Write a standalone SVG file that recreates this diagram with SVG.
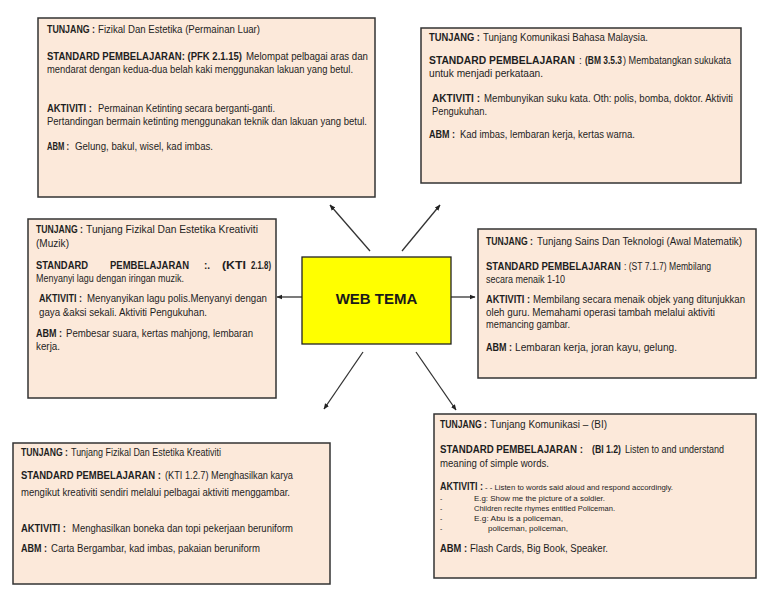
<svg xmlns="http://www.w3.org/2000/svg" width="768" height="594" viewBox="0 0 768 594">
<style>
.box{fill:#fce9da;stroke:#333;stroke-width:1.5}
text{font-family:"Liberation Sans",Arial,sans-serif;font-size:10px;fill:#1e1e1e}
.b{font-weight:bold}
.sm{font-size:7px}
.conn{stroke:#333;stroke-width:1.3;fill:none;marker-end:url(#ah)}
.title{font-size:15px;font-weight:bold;fill:#1a1a1a}
</style>
<defs>
<marker id="ah" viewBox="0 0 10 10" refX="9" refY="5" markerWidth="6" markerHeight="6" orient="auto" markerUnits="userSpaceOnUse">
<path d="M0,1 L10,5 L0,9 z" fill="#222"/>
</marker>
</defs>
<rect width="768" height="594" fill="#fff"/>

<g id="connectors">
<line class="conn" x1="302" y1="297" x2="277" y2="297"/>
<line class="conn" x1="451" y1="297" x2="475" y2="297"/>
<line class="conn" x1="370" y1="251" x2="330" y2="205"/>
<line class="conn" x1="402" y1="251" x2="440" y2="205"/>
<line class="conn" x1="363" y1="352" x2="324" y2="409"/>
<line class="conn" x1="416" y1="352" x2="456" y2="410"/>
</g>

<g id="center">
<rect x="302" y="257" width="149" height="87" fill="#ffff00" stroke="#222" stroke-width="1.3"/>
<text class="title" x="376.5" y="304" text-anchor="middle">WEB TEMA</text>
</g>

<g id="box-fizikal-luar">
<rect class="box" x="38" y="18" width="337" height="179"/>
<text class="b" x="47" y="33" textLength="48" lengthAdjust="spacingAndGlyphs">TUNJANG :</text>
<text x="98" y="33" textLength="162" lengthAdjust="spacingAndGlyphs">Fizikal Dan Estetika (Permainan Luar)</text>
<text class="b" x="47" y="60" textLength="195" lengthAdjust="spacingAndGlyphs">STANDARD PEMBELAJARAN: (PFK 2.1.15)</text>
<text x="246" y="60" textLength="122" lengthAdjust="spacingAndGlyphs">Melompat pelbagai aras dan</text>
<text x="47" y="73" textLength="306" lengthAdjust="spacingAndGlyphs">mendarat dengan kedua-dua belah kaki menggunakan lakuan yang betul.</text>
<text class="b" x="47" y="112" textLength="45" lengthAdjust="spacingAndGlyphs">AKTIVITI :</text>
<text x="98" y="112" textLength="177" lengthAdjust="spacingAndGlyphs">Permainan Ketinting secara berganti-ganti.</text>
<text x="47" y="125" textLength="320" lengthAdjust="spacingAndGlyphs">Pertandingan bermain ketinting menggunakan teknik dan lakuan yang betul.</text>
<text class="b" x="47" y="150" textLength="22" lengthAdjust="spacingAndGlyphs">ABM :</text>
<text x="75" y="150" textLength="138" lengthAdjust="spacingAndGlyphs">Gelung, bakul, wisel, kad imbas.</text>
</g>

<g id="box-bahasa-malaysia">
<rect class="box" x="421" y="28" width="320" height="155"/>
<text class="b" x="429" y="41" textLength="51" lengthAdjust="spacingAndGlyphs">TUNJANG :</text>
<text x="483" y="41" textLength="165" lengthAdjust="spacingAndGlyphs">Tunjang Komunikasi Bahasa Malaysia.</text>
<text class="b" x="429" y="64" textLength="146" lengthAdjust="spacingAndGlyphs">STANDARD PEMBELAJARAN</text>
<text x="579" y="64">:</text>
<text class="b" x="585" y="64" textLength="37" lengthAdjust="spacingAndGlyphs">(BM 3.5.3</text>
<text x="623" y="64" textLength="108" lengthAdjust="spacingAndGlyphs">) Membatangkan sukukata</text>
<text x="429" y="77" textLength="114" lengthAdjust="spacingAndGlyphs">untuk menjadi perkataan.</text>
<text class="b" x="432" y="102" textLength="48" lengthAdjust="spacingAndGlyphs">AKTIVITI :</text>
<text x="484" y="102" textLength="249" lengthAdjust="spacingAndGlyphs">Membunyikan suku kata. Oth: polis, bomba, doktor.  Aktiviti</text>
<text x="432" y="115" textLength="55" lengthAdjust="spacingAndGlyphs">Pengukuhan.</text>
<text class="b" x="429" y="138" textLength="26" lengthAdjust="spacingAndGlyphs">ABM :</text>
<text x="460" y="138" textLength="175" lengthAdjust="spacingAndGlyphs">Kad imbas, lembaran kerja, kertas warna.</text>
</g>

<g id="box-muzik">
<rect class="box" x="28" y="219" width="248" height="179"/>
<text class="b" x="36" y="233" textLength="47" lengthAdjust="spacingAndGlyphs">TUNJANG :</text>
<text x="86" y="233" textLength="172" lengthAdjust="spacingAndGlyphs">Tunjang Fizikal Dan Estetika Kreativiti</text>
<text x="36" y="247" textLength="33" lengthAdjust="spacingAndGlyphs">(Muzik)</text>
<text class="b" x="36" y="269" textLength="52" lengthAdjust="spacingAndGlyphs">STANDARD</text>
<text class="b" x="110" y="269" textLength="79" lengthAdjust="spacingAndGlyphs">PEMBELAJARAN</text>
<text class="b" x="204" y="269">:.</text>
<text class="b" x="222" y="269" textLength="24" lengthAdjust="spacingAndGlyphs">(KTI</text>
<text class="b" x="251" y="269" textLength="20" lengthAdjust="spacingAndGlyphs">2.1.8)</text>
<text x="36" y="282" textLength="148" lengthAdjust="spacingAndGlyphs">Menyanyi lagu dengan iringan muzik.</text>
<text class="b" x="39" y="302" textLength="43" lengthAdjust="spacingAndGlyphs">AKTIVITI :</text>
<text x="87" y="302" textLength="180" lengthAdjust="spacingAndGlyphs">Menyanyikan lagu polis.Menyanyi dengan</text>
<text x="39" y="316" textLength="168" lengthAdjust="spacingAndGlyphs">gaya &amp;aksi sekali. Aktiviti Pengukuhan.</text>
<text class="b" x="36" y="337" textLength="26" lengthAdjust="spacingAndGlyphs">ABM :</text>
<text x="66" y="337" textLength="187" lengthAdjust="spacingAndGlyphs">Pembesar suara, kertas mahjong, lembaran</text>
<text x="36" y="350" textLength="24" lengthAdjust="spacingAndGlyphs">kerja.</text>
</g>

<g id="box-sains">
<rect class="box" x="478" y="229" width="278" height="149"/>
<text class="b" x="486" y="245" textLength="47" lengthAdjust="spacingAndGlyphs">TUNJANG :</text>
<text x="537" y="245" textLength="205" lengthAdjust="spacingAndGlyphs">Tunjang Sains Dan Teknologi (Awal Matematik)</text>
<text class="b" x="486" y="270" textLength="135" lengthAdjust="spacingAndGlyphs">STANDARD PEMBELAJARAN</text>
<text x="624" y="270" textLength="87" lengthAdjust="spacingAndGlyphs">: (ST 7.1.7) Membilang</text>
<text x="486" y="283" textLength="79" lengthAdjust="spacingAndGlyphs">secara menaik 1-10</text>
<text class="b" x="486" y="303" textLength="44" lengthAdjust="spacingAndGlyphs">AKTIVITI :</text>
<text x="533" y="303" textLength="212" lengthAdjust="spacingAndGlyphs">Membilang secara menaik objek yang ditunjukkan</text>
<text x="486" y="316" textLength="229" lengthAdjust="spacingAndGlyphs">oleh guru. Memahami operasi tambah melalui aktiviti</text>
<text x="486" y="328" textLength="84" lengthAdjust="spacingAndGlyphs">memancing gambar.</text>
<text class="b" x="486" y="351" textLength="26" lengthAdjust="spacingAndGlyphs">ABM :</text>
<text x="515" y="351" textLength="162" lengthAdjust="spacingAndGlyphs">Lembaran kerja, joran kayu, gelung.</text>
</g>

<g id="box-kreativiti">
<rect class="box" x="13" y="443" width="317" height="141"/>
<text class="b" x="21" y="456" textLength="47" lengthAdjust="spacingAndGlyphs">TUNJANG :</text>
<text x="71" y="456" textLength="150" lengthAdjust="spacingAndGlyphs">Tunjang Fizikal Dan Estetika Kreativiti</text>
<text class="b" x="21" y="479" textLength="140" lengthAdjust="spacingAndGlyphs">STANDARD PEMBELAJARAN :</text>
<text x="165" y="479" textLength="128" lengthAdjust="spacingAndGlyphs">(KTI 1.2.7)  Menghasilkan karya</text>
<text x="21" y="496" textLength="269" lengthAdjust="spacingAndGlyphs">mengikut kreativiti sendiri melalui pelbagai aktiviti menggambar.</text>
<text class="b" x="21" y="532" textLength="45" lengthAdjust="spacingAndGlyphs">AKTIVITI :</text>
<text x="72" y="532" textLength="221" lengthAdjust="spacingAndGlyphs">Menghasilkan boneka dan topi pekerjaan beruniform</text>
<text class="b" x="21" y="552" textLength="26" lengthAdjust="spacingAndGlyphs">ABM :</text>
<text x="51" y="552" textLength="209" lengthAdjust="spacingAndGlyphs">Carta Bergambar, kad imbas, pakaian beruniform</text>
</g>

<g id="box-bi">
<rect class="box" x="434" y="414" width="322" height="164"/>
<text class="b" x="440" y="428" textLength="47" lengthAdjust="spacingAndGlyphs">TUNJANG :</text>
<text x="490" y="428" textLength="117" lengthAdjust="spacingAndGlyphs">Tunjang Komunikasi – (BI)</text>
<text class="b" x="440" y="453" textLength="143" lengthAdjust="spacingAndGlyphs" style="font-size:10.5px">STANDARD PEMBELAJARAN :</text>
<text class="b" x="592" y="453" textLength="29" lengthAdjust="spacingAndGlyphs" style="font-size:10.5px">(BI 1.2)</text>
<text x="625" y="453" textLength="99" lengthAdjust="spacingAndGlyphs" style="font-size:10.5px">Listen to and understand</text>
<text x="440" y="467" textLength="109" lengthAdjust="spacingAndGlyphs" style="font-size:10.5px">meaning of simple words.</text>
<text class="b" x="440" y="490" textLength="43" lengthAdjust="spacingAndGlyphs">AKTIVITI :</text>
<text class="sm" x="485" y="490" textLength="188" lengthAdjust="spacingAndGlyphs">- - Listen to words said aloud and respond accordingly.</text>
<text class="sm" x="440" y="501">-</text>
<text class="sm" x="474" y="501" textLength="131" lengthAdjust="spacingAndGlyphs">E.g: Show me the picture of a soldier.</text>
<text class="sm" x="440" y="511">-</text>
<text class="sm" x="474" y="511" textLength="141" lengthAdjust="spacingAndGlyphs">Children recite rhymes entitled Policeman.</text>
<text class="sm" x="440" y="521">-</text>
<text class="sm" x="474" y="521" textLength="89" lengthAdjust="spacingAndGlyphs">E.g: Abu is a policeman,</text>
<text class="sm" x="440" y="531">-</text>
<text class="sm" x="488" y="531" textLength="80" lengthAdjust="spacingAndGlyphs">policeman, policeman,</text>
<text class="b" x="440" y="552" textLength="27" lengthAdjust="spacingAndGlyphs">ABM :</text>
<text x="470" y="552" textLength="138" lengthAdjust="spacingAndGlyphs">Flash Cards, Big Book, Speaker.</text>
</g>
</svg>
